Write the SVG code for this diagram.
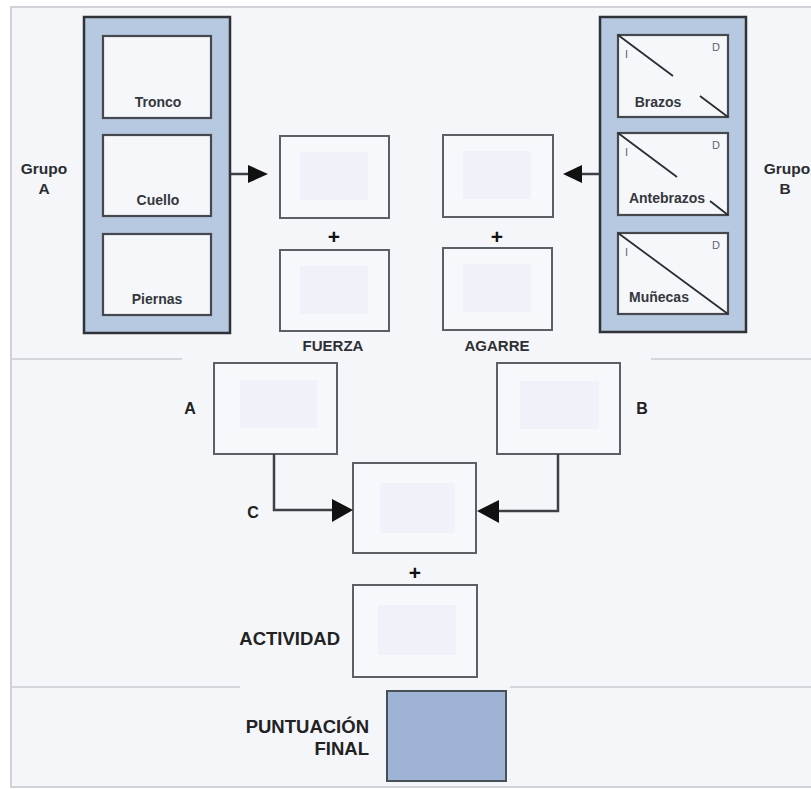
<svg xmlns="http://www.w3.org/2000/svg" width="811" height="789" viewBox="0 0 811 789">
  <defs>
    <style>
      .frame { fill: #f4f6fa; stroke: #cfd3d9; stroke-width: 2; }
      .sep { stroke: #d3d6db; stroke-width: 2; fill: none; }
      .group { fill: #b7c8e1; stroke: #2f3337; stroke-width: 2.5; }
      .inbox { fill: #f5f7fb; stroke: #45494e; stroke-width: 2.2; }
      .box { fill: #f6f8fb; stroke: #5c5f63; stroke-width: 2; }
      .patch { fill: #eff2f8; }
      .final { fill: #9fb4d5; stroke: #4a5058; stroke-width: 2; }
      .diag { stroke: #2a2d31; stroke-width: 1.8; fill: none; }
      .conn { stroke: #3d4044; stroke-width: 2.5; fill: none; }
      .head { fill: #111; }
      .lbl { font-family: "Liberation Sans", Arial, sans-serif; font-weight: bold; fill: #2b2d30; }
      .in { font-size: 14px; fill: #34373b; text-anchor: middle; }
      .grp { font-size: 15.5px; text-anchor: middle; }
      .big { font-size: 18.5px; fill: #222; }
      .mid { font-size: 15px; text-anchor: middle; fill: #2e3033; }
      .let { font-size: 16px; text-anchor: middle; fill: #222; }
      .plus { font-size: 21px; text-anchor: middle; fill: #111; }
      .side { font-family: "Liberation Sans", Arial, sans-serif; font-size: 11px; fill: #5f636a; }
    </style>
  </defs>

  <rect x="0" y="0" width="811" height="789" fill="#ffffff"/>
  <rect class="frame" x="11" y="7" width="812" height="780"/>

  <g id="separators">
    <line class="sep" x1="12" y1="359" x2="182" y2="359"/>
    <line class="sep" x1="651" y1="359" x2="811" y2="359"/>
    <line class="sep" x1="12" y1="687" x2="240" y2="687"/>
    <line class="sep" x1="510" y1="687" x2="811" y2="687"/>
  </g>

  <g id="grupoA">
    <rect class="group" x="84" y="17" width="146" height="316"/>
    <text class="lbl grp" x="44" y="174">Grupo</text>
    <text class="lbl grp" x="44" y="194">A</text>
  </g>
  <g id="tronco">
    <rect class="inbox" x="103" y="36" width="108" height="82"/>
    <text class="lbl in" x="158" y="107">Tronco</text>
  </g>
  <g id="cuello">
    <rect class="inbox" x="103" y="135" width="108" height="81"/>
    <text class="lbl in" x="158" y="205">Cuello</text>
  </g>
  <g id="piernas">
    <rect class="inbox" x="103" y="234" width="108" height="81"/>
    <text class="lbl in" x="157" y="304">Piernas</text>
  </g>

  <g id="grupoB">
    <rect class="group" x="600" y="17" width="146" height="315"/>
    <text class="lbl grp" x="787" y="174">Grupo</text>
    <text class="lbl grp" x="785" y="194">B</text>
  </g>
  <g id="brazos">
    <rect class="inbox" x="618" y="35" width="110" height="82"/>
    <line class="diag" x1="618" y1="35" x2="673" y2="76"/>
    <line class="diag" x1="700" y1="96" x2="728" y2="117"/>
    <text class="side" x="625" y="58">I</text>
    <text class="side" x="712" y="51">D</text>
    <text class="lbl in" x="658" y="107">Brazos</text>
  </g>
  <g id="antebrazos">
    <rect class="inbox" x="618" y="133" width="110" height="82"/>
    <line class="diag" x1="618" y1="133" x2="677" y2="177"/>
    <line class="diag" x1="710" y1="201" x2="728" y2="215"/>
    <text class="side" x="625" y="156">I</text>
    <text class="side" x="712" y="149">D</text>
    <text class="lbl in" x="667" y="203">Antebrazos</text>
  </g>
  <g id="munecas">
    <rect class="inbox" x="618" y="233" width="110" height="81"/>
    <line class="diag" x1="618" y1="233" x2="728" y2="314"/>
    <text class="side" x="625" y="256">I</text>
    <text class="side" x="712" y="249">D</text>
    <text class="lbl in" x="659" y="302">Muñecas</text>
  </g>

  <g id="boxA1">
    <rect class="box" x="280" y="136" width="109" height="82"/>
    <rect class="patch" x="300" y="152" width="68" height="48"/>
  </g>
  <text class="lbl plus" x="334" y="244">+</text>
  <g id="fuerza">
    <rect class="box" x="280" y="250" width="109" height="81"/>
    <rect class="patch" x="300" y="266" width="68" height="48"/>
    <text class="lbl mid" x="333" y="351">FUERZA</text>
  </g>

  <g id="boxB1">
    <rect class="box" x="443" y="135" width="110" height="82"/>
    <rect class="patch" x="463" y="151" width="68" height="48"/>
  </g>
  <text class="lbl plus" x="497" y="244">+</text>
  <g id="agarre">
    <rect class="box" x="443" y="248" width="109" height="82"/>
    <rect class="patch" x="463" y="264" width="68" height="48"/>
    <text class="lbl mid" x="497" y="351">AGARRE</text>
  </g>

  <g id="puntA">
    <rect class="box" x="214" y="363" width="123" height="91"/>
    <rect class="patch" x="240" y="380" width="77" height="48"/>
    <text class="lbl let" x="190" y="414">A</text>
  </g>
  <g id="puntB">
    <rect class="box" x="497" y="363" width="123" height="91"/>
    <rect class="patch" x="520" y="381" width="79" height="48"/>
    <text class="lbl let" x="642" y="414">B</text>
  </g>
  <g id="puntC">
    <rect class="box" x="353" y="463" width="123" height="90"/>
    <rect class="patch" x="380" y="483" width="75" height="50"/>
    <text class="lbl let" x="253" y="518">C</text>
  </g>
  <text class="lbl plus" x="415" y="580">+</text>
  <g id="actividad">
    <rect class="box" x="353" y="585" width="124" height="92"/>
    <rect class="patch" x="378" y="605" width="78" height="50"/>
    <text class="lbl big" x="340" y="645" text-anchor="end">ACTIVIDAD</text>
  </g>
  <g id="final">
    <rect class="final" x="387" y="691" width="119" height="90"/>
    <text class="lbl big" x="369" y="733" text-anchor="end">PUNTUACIÓN</text>
    <text class="lbl big" x="369" y="755" text-anchor="end">FINAL</text>
  </g>

  <g id="connectors">
    <line class="conn" x1="231" y1="174" x2="250" y2="174"/>
    <polygon class="head" points="248,165 268,174 248,183"/>
    <line class="conn" x1="599" y1="174" x2="580" y2="174"/>
    <polygon class="head" points="582,165 563,174 582,183"/>
    <polyline class="conn" points="274,454 274,510 334,510"/>
    <polygon class="head" points="332,499 353,510 332,522"/>
    <polyline class="conn" points="558,454 558,511 497,511"/>
    <polygon class="head" points="499,500 477,511 499,523"/>
  </g>
</svg>
